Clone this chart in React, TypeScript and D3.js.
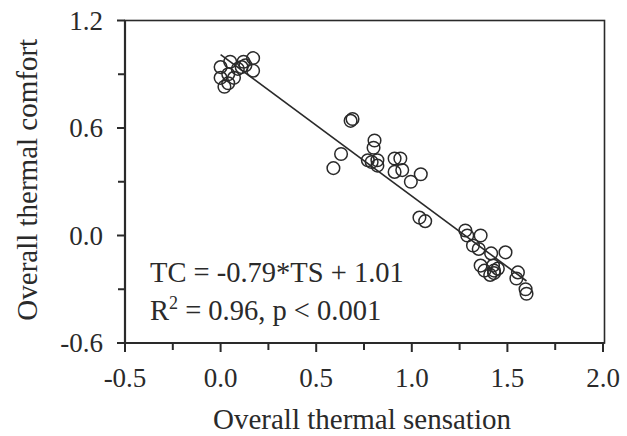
import React from "react";
import * as d3 from "d3";

const tsValues = [
  0.0, 0.05, 0.12, 0.17, 0.0, 0.04, 0.09, 0.13, 0.17, 0.02, 0.04, 0.07, 0.11,
  0.68, 0.69, 0.63, 0.59, 0.805, 0.80, 0.77, 0.79, 0.82, 0.82, 0.91, 0.94, 0.91, 0.95, 0.995, 1.047, 1.04, 1.07,
  1.28, 1.29, 1.36, 1.32, 1.35, 1.415, 1.49, 1.36, 1.38, 1.425, 1.43, 1.45, 1.43, 1.41, 1.555, 1.547, 1.595, 1.60,
];
const tcValues = [
  0.94, 0.97, 0.97, 0.99, 0.88, 0.90, 0.93, 0.95, 0.92, 0.83, 0.85, 0.88, 0.94,
  0.64, 0.65, 0.455, 0.376, 0.53, 0.49, 0.42, 0.41, 0.42, 0.39, 0.43, 0.43, 0.355, 0.365, 0.30, 0.342, 0.10, 0.08,
  0.028, 0.0, 0.0, -0.056, -0.075, -0.10, -0.094, -0.168, -0.196, -0.168, -0.196, -0.185, -0.21, -0.22, -0.206, -0.24, -0.30, -0.325,
];
const xMajorTicks = [-0.5, 0.0, 0.5, 1.0, 1.5, 2.0];
const xMinorTicks = [-0.25, 0.25, 0.75, 1.25, 1.75];
const yMajorTicks = [-0.6, 0.0, 0.6, 1.2];
const yMinorTicks = [-0.3, 0.3, 0.9];
const fitSlope = -0.79;
const fitIntercept = 1.01;
const fitRange = [0.0, 1.6];

const W = 627;
const H = 436;
const left = 125;
const right = 603;
const top = 20.5;
const bottom = 343;
const ink = "#2a2a2a";
const font = "'Liberation Serif', 'Times New Roman', serif";

export default function App() {
  const x = d3.scaleLinear().domain([-0.5, 2.0]).range([left, right]);
  const y = d3.scaleLinear().domain([-0.6, 1.2]).range([bottom, top]);
  const line = d3
    .line<number>()
    .x((d) => x(d))
    .y((d) => y(fitSlope * d + fitIntercept));

  return (
    <div style={{ position: "absolute", left: 0, top: 0 }}>
      <svg width={W} height={H} style={{ display: "block", background: "#fff" }}>
        {/* frame */}
        <rect x={left} y={top} width={right + 1.5 - left} height={bottom - top} fill="none" stroke={ink} strokeWidth={1.6} />
        <line x1={left} x2={left} y1={top} y2={bottom} stroke={ink} strokeWidth={2.2} />
        <line x1={left} x2={right + 1.5} y1={bottom} y2={bottom} stroke={ink} strokeWidth={2.2} />

        {/* x ticks */}
        {xMajorTicks.map((t) => (
          <g key={"xm" + t}>
            <line x1={x(t)} x2={x(t)} y1={bottom} y2={bottom + 9} stroke={ink} strokeWidth={2} />
            <text x={x(t)} y={387} textAnchor="middle" fontFamily={font} fontSize={27} fill={ink}>
              {t.toFixed(1)}
            </text>
          </g>
        ))}
        {xMinorTicks.map((t) => (
          <line key={"xn" + t} x1={x(t)} x2={x(t)} y1={bottom} y2={bottom + 7} stroke={ink} strokeWidth={2} />
        ))}

        {/* y ticks */}
        {yMajorTicks.map((t) => (
          <g key={"ym" + t}>
            <line x1={left - 8} x2={left} y1={y(t)} y2={y(t)} stroke={ink} strokeWidth={2} />
            <text x={103} y={y(t)} dy="0.34em" textAnchor="end" fontFamily={font} fontSize={27} fill={ink}>
              {t.toFixed(1)}
            </text>
          </g>
        ))}
        {yMinorTicks.map((t) => (
          <line key={"yn" + t} x1={left - 7} x2={left} y1={y(t)} y2={y(t)} stroke={ink} strokeWidth={2} />
        ))}

        {/* titles */}
        <text x={(left + right) / 2 - 2} y={429} textAnchor="middle" fontFamily={font} fontSize={29} fill={ink}>
          Overall thermal sensation
        </text>
        <text
          transform={`translate(37, ${(top + bottom) / 2 - 2}) rotate(-90)`}
          textAnchor="middle"
          fontFamily={font}
          fontSize={29}
          fill={ink}
        >
          Overall thermal comfort
        </text>

        {/* fit line */}
        <path d={line(fitRange) || ""} fill="none" stroke={ink} strokeWidth={1.6} />

        {/* points */}
        {tsValues.map((v, i) => (
          <circle key={i} cx={x(v)} cy={y(tcValues[i])} r={6.3} fill="none" stroke={ink} strokeWidth={1.5} />
        ))}

        {/* equation */}
        <text x={150} y={282} fontFamily={font} fontSize={28.5} fill={ink}>
          TC = -0.79*TS + 1.01
        </text>
        <text x={150} y={320} fontFamily={font} fontSize={28.5} fill={ink}>
          R<tspan dy={-11} fontSize={18}>2</tspan>
          <tspan dy={11}> = 0.96, p &lt; 0.001</tspan>
        </text>
      </svg>
    </div>
  );
}
